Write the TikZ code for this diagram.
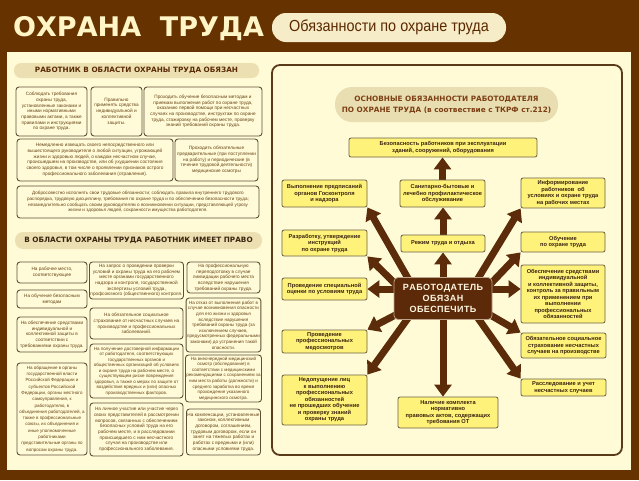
\documentclass[tikz,border=0pt]{standalone}
\usepackage{fontspec}
\usepackage{graphicx}
\setmainfont{Liberation Sans}
\newfontfamily\dejavu{DejaVu Sans}
\usetikzlibrary{arrows.meta,calc}
\definecolor{bgbrown}{HTML}{663300}
\definecolor{panel}{HTML}{FFFBD6}
\definecolor{titlec}{HTML}{FFF5C6}
\definecolor{pillfill}{HTML}{F6ECC8}
\definecolor{pilltext}{HTML}{5A2800}
\definecolor{hdrfill}{HTML}{ECE0B2}
\definecolor{hdrtext}{HTML}{5A2A05}
\definecolor{lfill}{HTML}{FFFBD8}
\definecolor{lbord}{HTML}{5E5038}
\definecolor{ltext}{HTML}{664216}
\definecolor{yfill}{HTML}{FFF27A}
\definecolor{ybord}{HTML}{6A6048}
\definecolor{ytext}{HTML}{3A2410}
\definecolor{arrc}{HTML}{5B2B0A}
\definecolor{rbord}{HTML}{5A3A18}
\definecolor{rhfill}{HTML}{E9DEB2}
\definecolor{rhtext}{HTML}{7C3F14}
\definecolor{cenfill}{HTML}{5C2A08}
\definecolor{centext}{HTML}{FFF6E2}
\pgfdeclarelayer{back}
\pgfdeclarelayer{arrows}
\pgfsetlayers{back,arrows,main}
\begin{document}
\begin{tikzpicture}[x=1pt,y=-1pt,
  lbox/.style={draw=lbord, fill=lfill, line width=0.9pt, rounded corners=3pt, align=center, inner sep=1pt, text=ltext, font=\fontsize{4.7}{5.7}\selectfont},
  ybox/.style={draw=ybord, fill=yfill, line width=0.8pt, rounded corners=2pt, align=center, inner sep=1pt, text=ytext, font=\bfseries\fontsize{5.7}{6.5}\selectfont},
  hdr/.style={fill=hdrfill, rounded corners=7pt, align=center, inner sep=0pt, text=hdrtext, font=\dejavu\bfseries\fontsize{7.3}{8}\selectfont},
  arr/.style={draw=arrc, line width=7pt, -{Triangle[width=17pt,length=12pt]}},
]
\useasboundingbox (0,0) rectangle (639,480);
\begin{pgfonlayer}{back}
\fill[bgbrown] (0,0) rectangle (639,480);
\fill[panel] (7,52) rectangle (631,470);
\end{pgfonlayer}

% title
\node[anchor=base west, inner sep=0pt, text=titlec, font=\dejavu\bfseries\fontsize{27}{28}\selectfont] (title) at (13,36) {ОХРАНА\ \ ТРУДА};
\node[fill=pillfill, rounded corners=14pt, minimum width=234pt, minimum height=29pt, inner sep=0pt, text=pilltext, font=\fontsize{16}{18}\selectfont] (pill) at (389,27.5) {\scalebox{0.9}[1]{Обязанности по охране труда}};

% left: obligations
\node[hdr, minimum width=245pt, minimum height=15pt] (h1) at (136.5,70.5) {РАБОТНИК В ОБЛАСТИ ОХРАНЫ ТРУДА ОБЯЗАН};
\node[lbox, minimum width=71pt, minimum height=49pt] (o1) at (51.5,111.5) {Соблюдать требования\\охраны труда,\\установленные законами и\\иными нормативными\\правовыми актами, а также\\правилами и инструкциями\\по охране труда.};
\node[lbox, minimum width=51pt, minimum height=49pt] (o2) at (116.5,111.5) {Правильно\\применять средства\\индивидуальной и\\коллективной\\защиты.};
\node[lbox, minimum width=118pt, minimum height=49pt] (o3) at (203,111.5) {Проходить обучение безопасным методам и\\приемам выполнения работ по охране труда,\\оказанию первой помощи при несчастных\\случаях на производстве, инструктаж по охране\\труда, стажировку на рабочем месте, проверку\\знаний требований охраны труда.};
\node[lbox, minimum width=156pt, minimum height=42pt] (o4) at (95,160) {Немедленно извещать своего непосредственного или\\вышестоящего руководителя о любой ситуации, угрожающей\\жизни и здоровью людей, о каждом несчастном случае,\\происшедшем на производстве, или об ухудшении состояния\\своего здоровья, в том числе о проявлении признаков острого\\профессионального заболевания (отравления).};
\node[lbox, minimum width=83pt, minimum height=42pt] (o5) at (216.5,160) {Проходить обязательные\\предварительные (при поступлении\\на работу) и периодические (в\\течение трудовой деятельности)\\медицинские осмотры};
\node[lbox, minimum width=242pt, minimum height=32pt, font=\fontsize{4.6}{5.8}\selectfont] (o6) at (138,202) {Добросовестно исполнять свои трудовые обязанности; соблюдать правила внутреннего трудового\\распорядка, трудовую дисциплину, требования по охране труда и по обеспечению безопасности труда;\\незамедлительно сообщать своим руководителям о возникновении ситуации, представляющей угрозу\\жизни и здоровья людей, сохранности имущества работодателя.};

% left: rights
\node[hdr, minimum width=247pt, minimum height=17pt, rounded corners=8pt, text=ytext] (h2) at (138.5,240.5) {В ОБЛАСТИ ОХРАНЫ ТРУДА РАБОТНИК ИМЕЕТ ПРАВО};
\node[lbox, minimum width=70pt, minimum height=21pt] (p1) at (52,272.5) {На рабочее место,\\соответствующее};
\node[lbox, minimum width=70pt, minimum height=18pt] (p2) at (52,299) {На обучение безопасным\\методам};
\node[lbox, minimum width=70pt, minimum height=35pt] (p3) at (52,334.5) {На обеспечение средствами\\индивидуальной и\\коллективной защиты в\\соответствии с\\требованиями охраны труда.};
\node[lbox, minimum width=70pt, minimum height=92pt, font=\fontsize{4.5}{6.3}\selectfont] (p4) at (52,409) {На обращение в органы\\государственной власти\\Российской Федерации и\\субъектов Российской\\Федерации, органы местного\\самоуправления, к\\работодателю, в\\объединения работодателей, а\\также в профессиональные\\союзы, их объединения и\\иные уполномоченные\\работниками\\представительные органы по\\вопросам охраны труда.};
\node[lbox, minimum width=93pt, minimum height=37pt] (q1) at (136.5,280.5) {На запрос о проведении проверки\\условий и охраны труда на его рабочем\\месте органами государственного\\надзора и контроля, государственной\\экспертизы условий труда,\\профсоюзного (общественного) контроля.};
\node[lbox, minimum width=93pt, minimum height=31pt] (q2) at (136.5,323.5) {На обязательное социальное\\страхование от несчастных случаев на\\производстве и профессиональных\\заболеваний.};
\node[lbox, minimum width=93pt, minimum height=54pt, font=\fontsize{4.5}{5.5}\selectfont] (q3) at (136.5,371) {На получение достоверной информации\\от работодателя, соответствующих\\государственных органов и\\общественных организаций об условиях\\и охране труда на рабочем месте, о\\существующем риске повреждения\\здоровья, а также о мерах по защите от\\воздействия вредных и (или) опасных\\производственных факторов.};
\node[lbox, minimum width=93pt, minimum height=53pt] (q4) at (136.5,429.5) {На личное участие или участие через\\своих представителей в рассмотрении\\вопросов, связанных с обеспечением\\безопасных условий труда на его\\рабочем месте, и в расследовании\\происшедшего с ним несчастного\\случая на производстве или\\профессионального заболевания.};
\node[lbox, minimum width=73pt, minimum height=31pt] (r1) at (223.5,277.5) {На профессиональную\\переподготовку в случае\\ликвидации рабочего места\\вследствие нарушения\\требований охраны труда.};
\node[lbox, minimum width=73pt, minimum height=54pt, font=\fontsize{4.6}{5.6}\selectfont] (r2) at (223.5,325) {На отказ от выполнения работ в\\случае возникновения опасности\\для его жизни и здоровья\\вследствие нарушения\\требований охраны труда (за\\исключением случаев,\\предусмотренных федеральными\\законами) до устранения такой\\опасности.};
\node[lbox, minimum width=73pt, minimum height=47pt, font=\fontsize{4.5}{5.6}\selectfont] (r3) at (223.5,378.5) {На внеочередной медицинский\\осмотр (обследование) в\\соответствии с медицинскими\\рекомендациями с сохранением за\\ним места работы (должности) и\\среднего заработка во время\\прохождения указанного\\медицинского осмотра.};
\node[lbox, minimum width=73pt, minimum height=46pt] (r4) at (223.5,432) {На компенсации, установленные\\законом, коллективным\\договором, соглашением,\\трудовым договором, если он\\занят на тяжелых работах и\\работах с вредными и (или)\\опасными условиями труда.};

% right panel
\node[draw=rbord, line width=1.8pt, rounded corners=8pt, minimum width=350pt, minimum height=390pt, inner sep=0pt] (rp) at (447,260) {};
\node[fill=rhfill, rounded corners=17pt, minimum width=223pt, minimum height=35pt, align=center, inner sep=0pt, text=rhtext, font=\dejavu\bfseries\fontsize{7.3}{11}\selectfont] (rh) at (446.5,104.5) {ОСНОВНЫЕ ОБЯЗАННОСТИ РАБОТОДАТЕЛЯ\\ПО ОХРАНЕ ТРУДА (в соотвествие с ТКРФ ст.212)};

\node[ybox, minimum width=188pt, minimum height=19pt] (bez) at (443,147.5) {Безопасность работников при эксплуатации\\зданий, сооружений, оборудования};
\node[ybox, minimum width=85pt, minimum height=27pt] (vyp) at (324.5,193.5) {Выполнение предписаний\\органов Госконтроля\\и надзора};
\node[ybox, minimum width=85pt, minimum height=27pt] (san) at (442.5,193.5) {Санитарно-бытовые и\\лечебно профилактическое\\обслуживание};
\node[ybox, minimum width=84pt, minimum height=30pt] (inf) at (563,193) {Информирование\\работников\ \ об\\условиях и охране труда\\на рабочих местах};
\node[ybox, minimum width=85pt, minimum height=26pt] (razr) at (324.5,243) {Разработку, утверждение\\инструкций\\по охране труда};
\node[ybox, minimum width=84pt, minimum height=17pt] (rezh) at (443,243.5) {Режим труда и отдыха};
\node[ybox, minimum width=84pt, minimum height=20pt] (obuch) at (563,242) {Обучение\\по охране труда};
\node[ybox, minimum width=85pt, minimum height=22pt] (spec) at (324.5,289) {Проведение специальной\\оценки по условиям труда};
\node[ybox, minimum width=84pt, minimum height=58pt] (obesp) at (563,294) {Обеспечение средствами\\индивидуальной\\и коллективной защиты,\\контроль за правильным\\их применением при\\выполнении\\профессиональных\\обязанностей};
\node[ybox, minimum width=85pt, minimum height=23pt] (med) at (324.5,341.5) {Проведение\\профессиональных\\медосмотров};
\node[ybox, minimum width=85pt, minimum height=25pt] (strah) at (563.5,345.5) {Обязательное социальное\\страхование несчастных\\случаев на производстве};
\node[ybox, minimum width=85pt, minimum height=50pt] (ned) at (324.5,400) {Недопущение лиц\\к выполнению\\профессиональных\\обязанностей\\не прошедших обучение\\и проверку знаний\\охраны труда};
\node[ybox, minimum width=85pt, minimum height=17pt] (rassl) at (563.5,387.5) {Расследование и учет\\несчастных случаев};
\node[ybox, minimum width=100pt, minimum height=31pt] (nal) at (448,412.5) {Наличие комплекта\\нормативно\\правовых актов, содержащих\\требования ОТ};

\node[draw=centext!60!cenfill, fill=cenfill, line width=0.8pt, rounded corners=4pt, minimum width=98pt, minimum height=42pt, align=center, inner sep=0pt, text=centext, font=\bfseries\fontsize{9}{11}\selectfont] (cen) at (443,298.5) {Р\kern.4pt А\kern.4pt Б\kern.4pt О\kern.4pt Т\kern.4pt О\kern.4pt Д\kern.4pt А\kern.4pt Т\kern.4pt Е\kern.4pt Л\kern.4pt Ь\\О\kern.4pt Б\kern.4pt Я\kern.4pt З\kern.4pt А\kern.4pt Н\\О\kern.4pt Б\kern.4pt Е\kern.4pt С\kern.4pt П\kern.4pt Е\kern.4pt Ч\kern.4pt И\kern.4pt Т\kern.4pt Ь};

\begin{pgfonlayer}{arrows}
\draw[arr] ($(cen.north west)+(16,4)$) -- (vyp.south east);
\draw[arr] ($(cen.north west)+(4,9)$) -- (razr.south east);
\draw[arr] ($(cen.west |- spec.east)+(4,0)$) -- (spec.east);
\draw[arr] ($(cen.east |- spec.east)+(-4,0)$) -- (obesp.west |- spec.east);
\draw[arr] ($(cen.north east)+(-16,4)$) -- (inf.south west);
\draw[arr] ($(cen.north east)+(-4,9)$) -- (obuch.south west);
\draw[arr] ($(cen.south west)+(4,-6)$) -- (med.north east);
\draw[arr] ($(cen.south west)+(16,-4)$) -- (ned.north east);
\draw[arr] ($(cen.south)+(0,-4)$) -- (cen.south |- nal.north);
\draw[arr] ($(cen.south east)+(-4,-6)$) -- (strah.north west);
\draw[arr] ($(cen.south east)+(-16,-4)$) -- (rassl.north west);
\draw[arr] ($(cen.north)+(0,4)$) -- (rezh.south);
\draw[arr] (rezh.north) -- (rezh.north |- san.south);
\draw[arr] (san.north) -- (san.north |- bez.south);
\end{pgfonlayer}
\end{tikzpicture}
\end{document}
